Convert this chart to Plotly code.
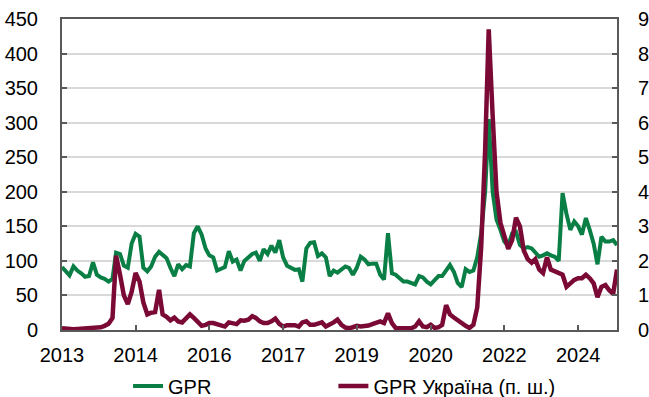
import pandas as pd
import plotly.graph_objects as go

# Monthly observations, Jan 2013 - Dec 2024
months = pd.date_range("2013-01-01", periods=144, freq="MS")

# Global geopolitical risk index (left axis)
gpr = [
    91, 84, 79, 92, 86, 82, 77, 78, 98, 80, 76, 74, 70, 74, 112, 110, 93, 90, 125, 139,
    135, 90, 85, 92, 106, 113, 108, 104, 90, 78, 95, 88, 94, 92, 140, 150, 138, 118, 108, 105,
    86, 88, 91, 114, 99, 102, 86, 100, 106, 110, 112, 100, 117, 110, 122, 112, 130, 105, 93, 90,
    87, 88, 70, 118, 126, 127, 107, 111, 105, 78, 86, 83, 87, 92, 90, 80, 90, 106, 102, 95,
    96, 96, 80, 73, 140, 82, 80, 74, 70, 70, 68, 66, 78, 76, 70, 66, 72, 78, 78, 86,
    94, 84, 68, 62, 88, 84, 86, 105, 140, 200, 305, 200, 160, 145, 128, 122, 140, 142, 123, 118,
    120, 118, 112, 106, 108, 111, 108, 106, 100, 198, 168, 145, 157, 150, 138, 162, 145, 125, 95, 135,
    128, 128, 130, 123,
]

# Geopolitical risk index for Ukraine (right axis)
gpr_ua = [
    0.05, 0.03, 0.02, 0.02, 0.03, 0.04, 0.05, 0.05, 0.05, 0.06, 0.08, 0.12, 0.18, 0.35, 2.15, 1.6, 1.0, 0.75, 1.1, 1.65,
    1.4, 0.8, 0.45, 0.5, 0.52, 1.16, 0.45, 0.38, 0.28, 0.36, 0.25, 0.22, 0.35, 0.45, 0.35, 0.25, 0.12, 0.15, 0.2, 0.2,
    0.17, 0.14, 0.1, 0.22, 0.2, 0.17, 0.28, 0.27, 0.3, 0.4, 0.35, 0.25, 0.2, 0.2, 0.25, 0.33, 0.18, 0.1, 0.14, 0.15,
    0.14, 0.1, 0.22, 0.25, 0.15, 0.15, 0.2, 0.22, 0.1, 0.15, 0.22, 0.3, 0.15, 0.07, 0.05, 0.08, 0.12, 0.1, 0.1, 0.13,
    0.17, 0.2, 0.25, 0.2, 0.48, 0.2, 0.06, 0.05, 0.05, 0.05, 0.05, 0.1, 0.25, 0.1, 0.08, 0.15, 0.06, 0.08, 0.15, 0.72,
    0.45, 0.36, 0.28, 0.18, 0.12, 0.06, 0.15, 0.65, 2.4, 5.2, 8.7, 6.2, 4.0, 3.1, 2.75, 2.35, 2.6, 3.25, 3.0, 2.3,
    2.05, 1.95, 2.05, 1.75, 1.65, 2.1, 1.75, 1.7, 1.65, 1.6, 1.25, 1.35, 1.45, 1.5, 1.5, 1.6, 1.5, 1.35, 0.95, 1.25,
    1.3, 1.15, 1.05, 1.75,
]

# Year labels every 19 months
tick_dates = months[::19]
tick_text = [d.strftime("%Y") for d in tick_dates]

left_ticks = list(range(0, 451, 50))
right_ticks = list(range(0, 10))

GREEN = "#0A7F45"
MAROON = "#7A0A35"
AXIS = "#595959"
GRID = "#D9D9D9"
FAMILY = "Liberation Sans, Arial, sans-serif"
TICK_FONT = dict(family=FAMILY, size=20, color="#000000")
LEGEND_FONT = dict(family=FAMILY, size=20, color="#000000")

fig = go.Figure()
fig.add_trace(go.Scatter(
    x=months, y=gpr, name="GPR", mode="lines",
    line=dict(color=GREEN, width=4), yaxis="y", legend="legend",
))
fig.add_trace(go.Scatter(
    x=months, y=gpr_ua, name="GPR Україна (п. ш.)", mode="lines",
    line=dict(color=MAROON, width=4.5), yaxis="y2", legend="legend2",
))

legend_common = dict(
    orientation="h", y=-0.18, yanchor="middle",
    font=LEGEND_FONT, bgcolor="rgba(0,0,0,0)",
)

fig.update_layout(
    width=649, height=397,
    margin=dict(l=62, r=32, t=19, b=67, autoexpand=False),
    paper_bgcolor="white", plot_bgcolor="white",
    font=TICK_FONT,
    showlegend=True,
    legend=dict(x=0.119, xanchor="left", **legend_common),
    legend2=dict(x=0.489, xanchor="left", **legend_common),
    xaxis=dict(
        type="date", range=[months[0], months[-1]],
        tickvals=tick_dates, ticktext=tick_text,
        ticks="inside", ticklen=5, tickwidth=1.5, tickcolor=AXIS,
        showline=True, linecolor=AXIS, linewidth=2, mirror=True,
        showgrid=False, zeroline=False, automargin=False,
        ticklabelstandoff=6,
        tickfont=TICK_FONT,
    ),
    yaxis=dict(
        range=[0, 450], tickvals=left_ticks,
        ticks="inside", ticklen=5, tickwidth=1.5, tickcolor=AXIS,
        showline=True, linecolor=AXIS, linewidth=2,
        showgrid=True, gridcolor=GRID, gridwidth=1.5,
        zeroline=False, automargin=False, ticklabelstandoff=18,
        tickfont=TICK_FONT,
    ),
    yaxis2=dict(
        range=[0, 9], tickvals=right_ticks,
        overlaying="y", side="right",
        ticks="inside", ticklen=5, tickwidth=1.5, tickcolor=AXIS,
        showline=True, linecolor=AXIS, linewidth=2,
        showgrid=False, zeroline=False, automargin=False, ticklabelstandoff=15,
        tickfont=TICK_FONT,
    ),
)

fig.write_html("out.html")
